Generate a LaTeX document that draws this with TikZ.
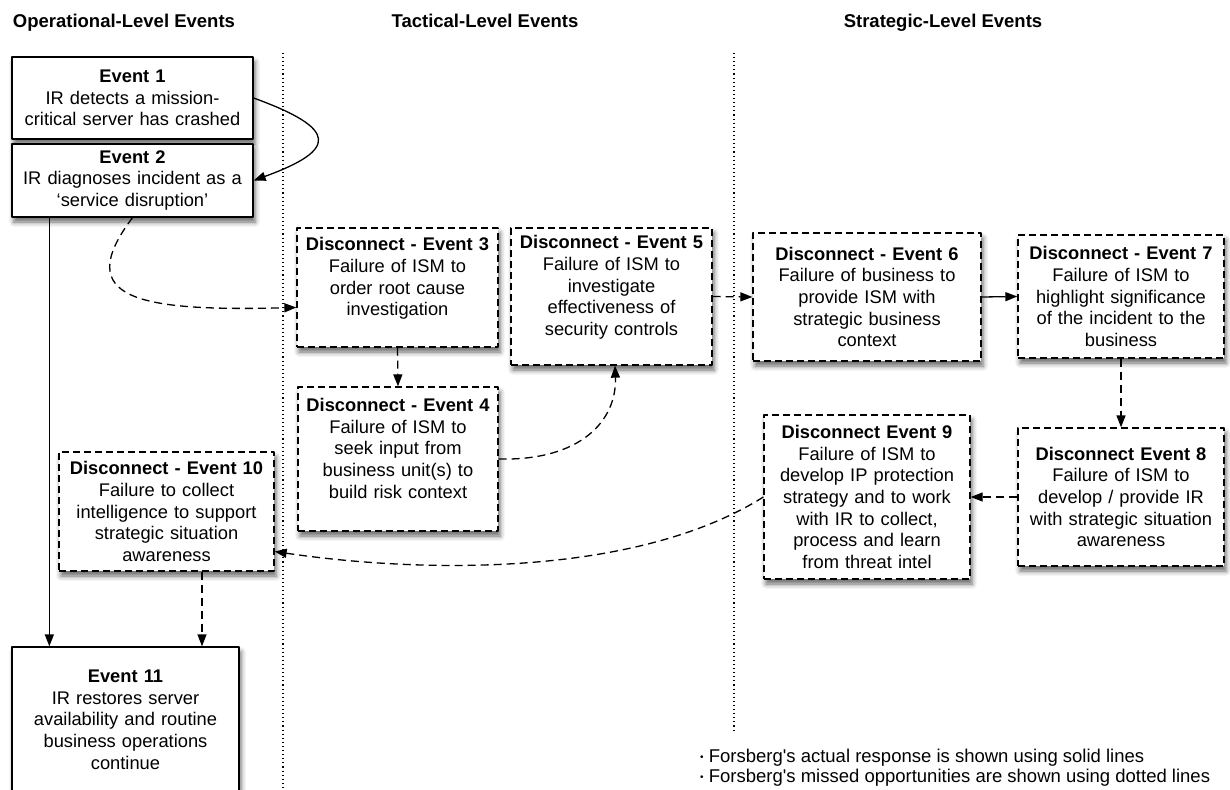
\documentclass[tikz,border=0pt]{standalone}
\usepackage{fontspec}
\setmainfont{Liberation Sans}
\usetikzlibrary{arrows.meta,shadows.blur}

\tikzset{
  evtbox/.style 2 args={draw, line width=1.3pt, fill=white, align=center,
    text width=#1, minimum height=#2, inner xsep=0pt, inner ysep=0pt,
    font=\fontsize{18.3}{21.7}\selectfont,
    blur shadow={shadow xshift=2pt, shadow yshift=-5pt, shadow blur radius=5pt, shadow opacity=60}},
  gapbox/.style 2 args={evtbox={#1}{#2}, dash pattern=on 7pt off 4pt},
  actual/.style={line width=1.3pt, -{Triangle[length=12pt,width=9pt]}},
  missed/.style={actual, dash pattern=on 8pt off 5pt},
  lane/.style={line width=1.1pt, dash pattern=on 1.1pt off 3pt},
  lanehead/.style={inner sep=0pt, font=\fontsize{18.5}{22}\selectfont\bfseries}
}

\begin{document}
\begin{tikzpicture}[x=1pt, y=1pt, line join=round]
\useasboundingbox (0,0) rectangle (1230,-789);

% lanes
\node[lanehead, anchor=base west] (op) at (12.7,-27.6) {Operational-Level Events};
\node[lanehead, anchor=base] (tac) at (485,-27.6) {Tactical-Level Events};
\node[lanehead, anchor=base] (str) at (943,-27.6) {Strategic-Level Events};
\draw[lane] (283,-53) -- (283,-789);
\draw[lane] (734,-53) -- (734,-732);

% events
\node[evtbox={241pt}{82pt}] (e1) at (132.5,-98) {\textbf{Event 1}\\IR detects a mission-\\critical server has crashed};
\node[evtbox={241pt}{73pt}] (e2) at (132.5,-180.5) {\textbf{Event 2}\\IR diagnoses incident as a\\‘service disruption’};
\node[gapbox={201pt}{119pt}] (e3) at (397.5,-287.5) {\textbf{Disconnect - Event 3}\\Failure of ISM to\\order root cause\\investigation\\\mbox{}};
\node[gapbox={200pt}{144pt}] (e4) at (398,-459) {\textbf{Disconnect - Event 4}\\Failure of ISM to\\seek input from\\business unit(s) to\\build risk context\\\mbox{}};
\node[gapbox={201pt}{137pt}] (e5) at (611.5,-296.5) {\textbf{Disconnect - Event 5}\\Failure of ISM to\\investigate\\effectiveness of\\security controls\\\mbox{}};
\node[gapbox={228pt}{128pt}] (e6) at (867,-297) {\textbf{Disconnect - Event 6}\\Failure of business to\\provide ISM with\\strategic business\\context};
\node[gapbox={206pt}{123pt}] (e7) at (1121,-296.5) {\textbf{Disconnect - Event 7}\\Failure of ISM to\\highlight significance\\of the incident to the\\business};
\node[gapbox={206pt}{138pt}] (e8) at (1121,-497) {\textbf{Disconnect Event 8}\\Failure of ISM to\\develop / provide IR\\with strategic situation\\awareness};
\node[gapbox={206pt}{164pt}] (e9) at (867,-497) {\textbf{Disconnect Event 9}\\Failure of ISM to\\develop IP protection\\strategy and to work\\with IR to collect,\\process and learn\\from threat intel};
\node[gapbox={215pt}{119pt}] (e10) at (166.5,-511.5) {\textbf{Disconnect - Event 10}\\Failure to collect\\intelligence to support\\strategic situation\\awareness};
\node[evtbox={227pt}{145pt}] (e11) at (125.5,-719.5) {\textbf{Event 11}\\IR restores server\\availability and routine\\business operations\\continue};

% connectors
\draw[actual] (e1.east) .. controls +(-20:90) and +(20:90) .. (e2.east);
\draw[actual] ([xshift=38pt]e2.south west) -- ([xshift=38pt]e11.north west);
\draw[missed] (e2.south) .. controls +(-62,-82) and +(-157,-4) .. ([yshift=-20pt]e3.west);
\draw[missed] (e3.south) -- (e4.north);
\draw[missed] (e4.east) .. controls +(82,-2) and +(2,-55) .. ([xshift=3.5pt]e5.south);
\draw[missed] (e5.east) -- (e6.west);
\draw[actual] (e6.east) -- (e7.west);
\draw[missed] (e7.south) -- (e8.north);
\draw[missed] (e8.west) -- (e9.east);
\draw[missed] (e9.west) .. controls +(-124,-78) and +(156,-23) .. ([yshift=-40pt]e10.east);
\draw[missed] ([xshift=35.5pt]e10.south) -- ([xshift=76.5pt]e11.north);

% legend
\node[anchor=west, align=left, inner sep=0pt, font=\fontsize{18.5}{20}\selectfont] (key) at (700,-768)
  {\raisebox{2pt}{\fontsize{10}{10}\selectfont\textbullet}\ Forsberg\textquotesingle s actual response is shown using solid lines\\
   \raisebox{2pt}{\fontsize{10}{10}\selectfont\textbullet}\ Forsberg\textquotesingle s missed opportunities are shown using dotted lines};
\end{tikzpicture}
\end{document}
